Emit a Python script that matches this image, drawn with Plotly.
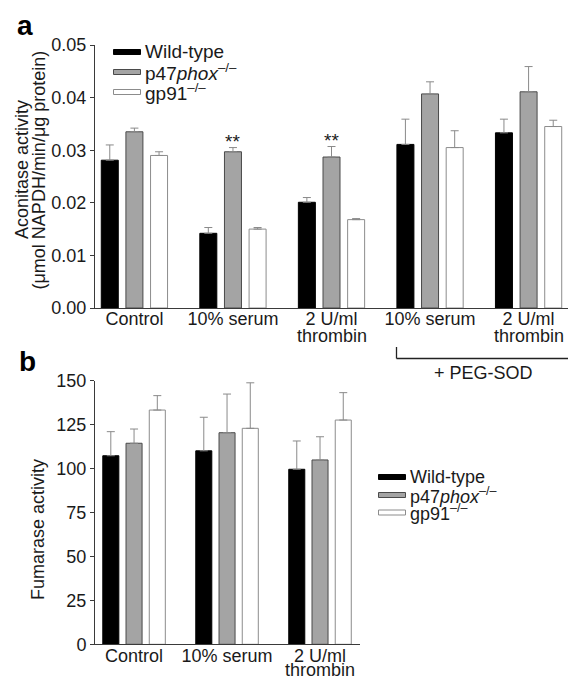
import plotly.graph_objects as go

# ---------------- data ----------------
groups = ["Wild-type", "p47phox", "gp91"]
legend_text = ["Wild-type", "p47<i>phox</i><sup>–/–</sup>", "gp91<sup>–/–</sup>"]

a_categories = ["Control", "10% serum", "2 U/ml<br>thrombin", "10% serum", "2 U/ml<br>thrombin"]
a_wt = [0.0281, 0.0142, 0.0201, 0.0311, 0.0333]
a_wt_err = [0.0029, 0.0011, 0.0009, 0.0048, 0.0026]
a_p47 = [0.0335, 0.0297, 0.0287, 0.0407, 0.0411]
a_p47_err = [0.0007, 0.0008, 0.0020, 0.0023, 0.0048]
a_gp91 = [0.0290, 0.0150, 0.0168, 0.0305, 0.0345]
a_gp91_err = [0.0007, 0.0003, 0.0002, 0.0032, 0.0012]
a_signif = ["", "**", "**", "", ""]
a_yticks = [0.00, 0.01, 0.02, 0.03, 0.04, 0.05]

b_categories = ["Control", "10% serum", "2 U/ml<br>thrombin"]
b_wt = [107.3, 110.1, 99.6]
b_wt_err = [13.7, 19.1, 16.1]
b_p47 = [114.4, 120.4, 104.9]
b_p47_err = [8.1, 22.0, 13.2]
b_gp91 = [133.3, 122.9, 127.6]
b_gp91_err = [8.2, 25.9, 15.6]
b_yticks = [0, 25, 50, 75, 100, 125, 150]

# ---------------- styling ----------------
W, H = 568, 680
FONT = "Liberation Sans, Arial, Helvetica, sans-serif"
TXT = "#1a1a1a"
AX = "#3a3a3a"
fills = ["#000000", "#a4a4a4", "#ffffff"]
outlines = ["#000000", "#4a4a4a", "#8c8c8c"]
ERRC = "#8a8a8a"


def px(x):
    return x / W


def py(y):
    return 1 - y / H


def txt(size=18, color=TXT):
    return dict(size=size, color=color, family=FONT)


fig = go.Figure()

a_series = [(a_wt, a_wt_err), (a_p47, a_p47_err), (a_gp91, a_gp91_err)]
b_series = [(b_wt, b_wt_err), (b_p47, b_p47_err), (b_gp91, b_gp91_err)]

for i, (vals, errs) in enumerate(a_series):
    fig.add_trace(go.Bar(
        x=list(range(len(a_categories))), y=vals, name=groups[i],
        marker=dict(color=fills[i], line=dict(color=outlines[i], width=1)),
        error_y=dict(type="data", array=errs, arrayminus=[0] * len(errs), symmetric=False,
                     color=ERRC, thickness=1, width=4),
        xaxis="x", yaxis="y", showlegend=False, offsetgroup=str(i)))

for i, (vals, errs) in enumerate(b_series):
    fig.add_trace(go.Bar(
        x=list(range(len(b_categories))), y=vals, name=groups[i],
        marker=dict(color=fills[i], line=dict(color=outlines[i], width=1)),
        error_y=dict(type="data", array=errs, arrayminus=[0] * len(errs), symmetric=False,
                     color=ERRC, thickness=1, width=4),
        xaxis="x2", yaxis="y2", showlegend=False, offsetgroup=str(i)))

annotations = []
shapes = []

# significance stars above p47 bars
for i, s in enumerate(a_signif):
    if s:
        annotations.append(dict(x=i, y=a_p47[i] + a_p47_err[i], xref="x", yref="y",
                                text=s, showarrow=False, xanchor="center", yanchor="bottom",
                                yshift=-6, font=txt(19)))


def first_line(c):
    return c.split("<br>")[0]


# second line of two-line category labels (tight line spacing as in the reference)
for i, c in enumerate(a_categories):
    if "<br>" in c:
        annotations.append(dict(x=i, y=py(336), xref="x", yref="paper", text=c.split("<br>")[1],
                                showarrow=False, xanchor="center", yanchor="middle", font=txt(18)))
for i, c in enumerate(b_categories):
    if "<br>" in c:
        annotations.append(dict(x=i, y=py(670), xref="x2", yref="paper", text=c.split("<br>")[1],
                                showarrow=False, xanchor="center", yanchor="middle", font=txt(18)))

# y-axis titles
annotations += [
    dict(x=px(22), y=py(170), xref="paper", yref="paper", text="Aconitase activity",
         textangle=-90, showarrow=False, xanchor="center", yanchor="middle", font=txt(18)),
    dict(x=px(38.5), y=py(170), xref="paper", yref="paper", text="(μmol NAPDH/min/μg protein)",
         textangle=-90, showarrow=False, xanchor="center", yanchor="middle", font=txt(18)),
    dict(x=px(38), y=py(530), xref="paper", yref="paper", text="Fumarase activity",
         textangle=-90, showarrow=False, xanchor="center", yanchor="middle", font=txt(18)),
]

# panel letters
annotations += [
    dict(x=px(25), y=py(26), xref="paper", yref="paper", text="<b>a</b>", showarrow=False,
         xanchor="center", yanchor="middle", font=txt(28, "#000")),
    dict(x=px(27), y=py(361), xref="paper", yref="paper", text="<b>b</b>", showarrow=False,
         xanchor="center", yanchor="middle", font=txt(28, "#000")),
]

# PEG-SOD bracket
shapes += [
    dict(type="line", xref="paper", yref="paper", x0=px(396.5), x1=px(396.5), y0=py(347), y1=py(358.5),
         line=dict(color="#222", width=1.3)),
    dict(type="line", xref="paper", yref="paper", x0=px(396.5), x1=px(568), y0=py(358.5), y1=py(358.5),
         line=dict(color="#222", width=1.3)),
]
annotations.append(dict(x=px(483), y=py(373), xref="paper", yref="paper", text="+ PEG-SOD",
                        showarrow=False, xanchor="center", yanchor="middle", font=txt(18)))


# manual legends (long thin bar swatches like the reference)
def add_legend(x0, y_rows, size):
    for i in range(3):
        yc = y_rows[i]
        shapes.append(dict(type="rect", xref="paper", yref="paper",
                           x0=px(x0), x1=px(x0 + 27), y0=py(yc - 2.5), y1=py(yc + 2.5),
                           fillcolor=fills[i], line=dict(color=outlines[i], width=1)))
        annotations.append(dict(x=px(x0 + 29), y=py(yc), xref="paper", yref="paper",
                                text=legend_text[i], showarrow=False, xanchor="left", yanchor="middle",
                                font=txt(size)))


add_legend(113.5, [52, 72, 92], 19)
add_legend(378.5, [477, 495, 512.5], 18)

axis_common = dict(showline=True, linecolor=AX, linewidth=1, showgrid=False, zeroline=False,
                   automargin=False, tickfont=txt(18))

fig.update_layout(
    template="none",
    width=W, height=H, margin=dict(l=0, r=0, t=0, b=0, pad=0, autoexpand=False),
    paper_bgcolor="white", plot_bgcolor="white",
    barmode="group", bargap=0.25, bargroupgap=0.31,
    font=dict(family=FONT, color=TXT),
    showlegend=False,
    xaxis=dict(domain=[px(95), 1.0], range=[-0.4, 4.4], anchor="y",
               tickvals=list(range(len(a_categories))),
               ticktext=[first_line(c) for c in a_categories], ticks="",
               ticklabelstandoff=-6, **axis_common),
    yaxis=dict(domain=[py(308), py(45)], range=[0, 0.05], anchor="x",
               tickvals=a_yticks, tickformat=".2f", ticks="outside", ticklen=4,
               tickcolor=AX, **axis_common),
    xaxis2=dict(domain=[px(95), px(360)], range=[-0.42, 2.43], anchor="y2",
                tickvals=list(range(len(b_categories))),
                ticktext=[first_line(c) for c in b_categories], ticks="",
                ticklabelstandoff=-5, **axis_common),
    yaxis2=dict(domain=[py(644.3), py(380.7)], range=[0, 150], anchor="x2",
                tickvals=b_yticks, ticks="outside", ticklen=4, tickcolor=AX, **axis_common),
    annotations=annotations, shapes=shapes,
)

fig.write_html("out.html", config={"displayModeBar": False},
               post_script="document.body.style.margin='0';")
